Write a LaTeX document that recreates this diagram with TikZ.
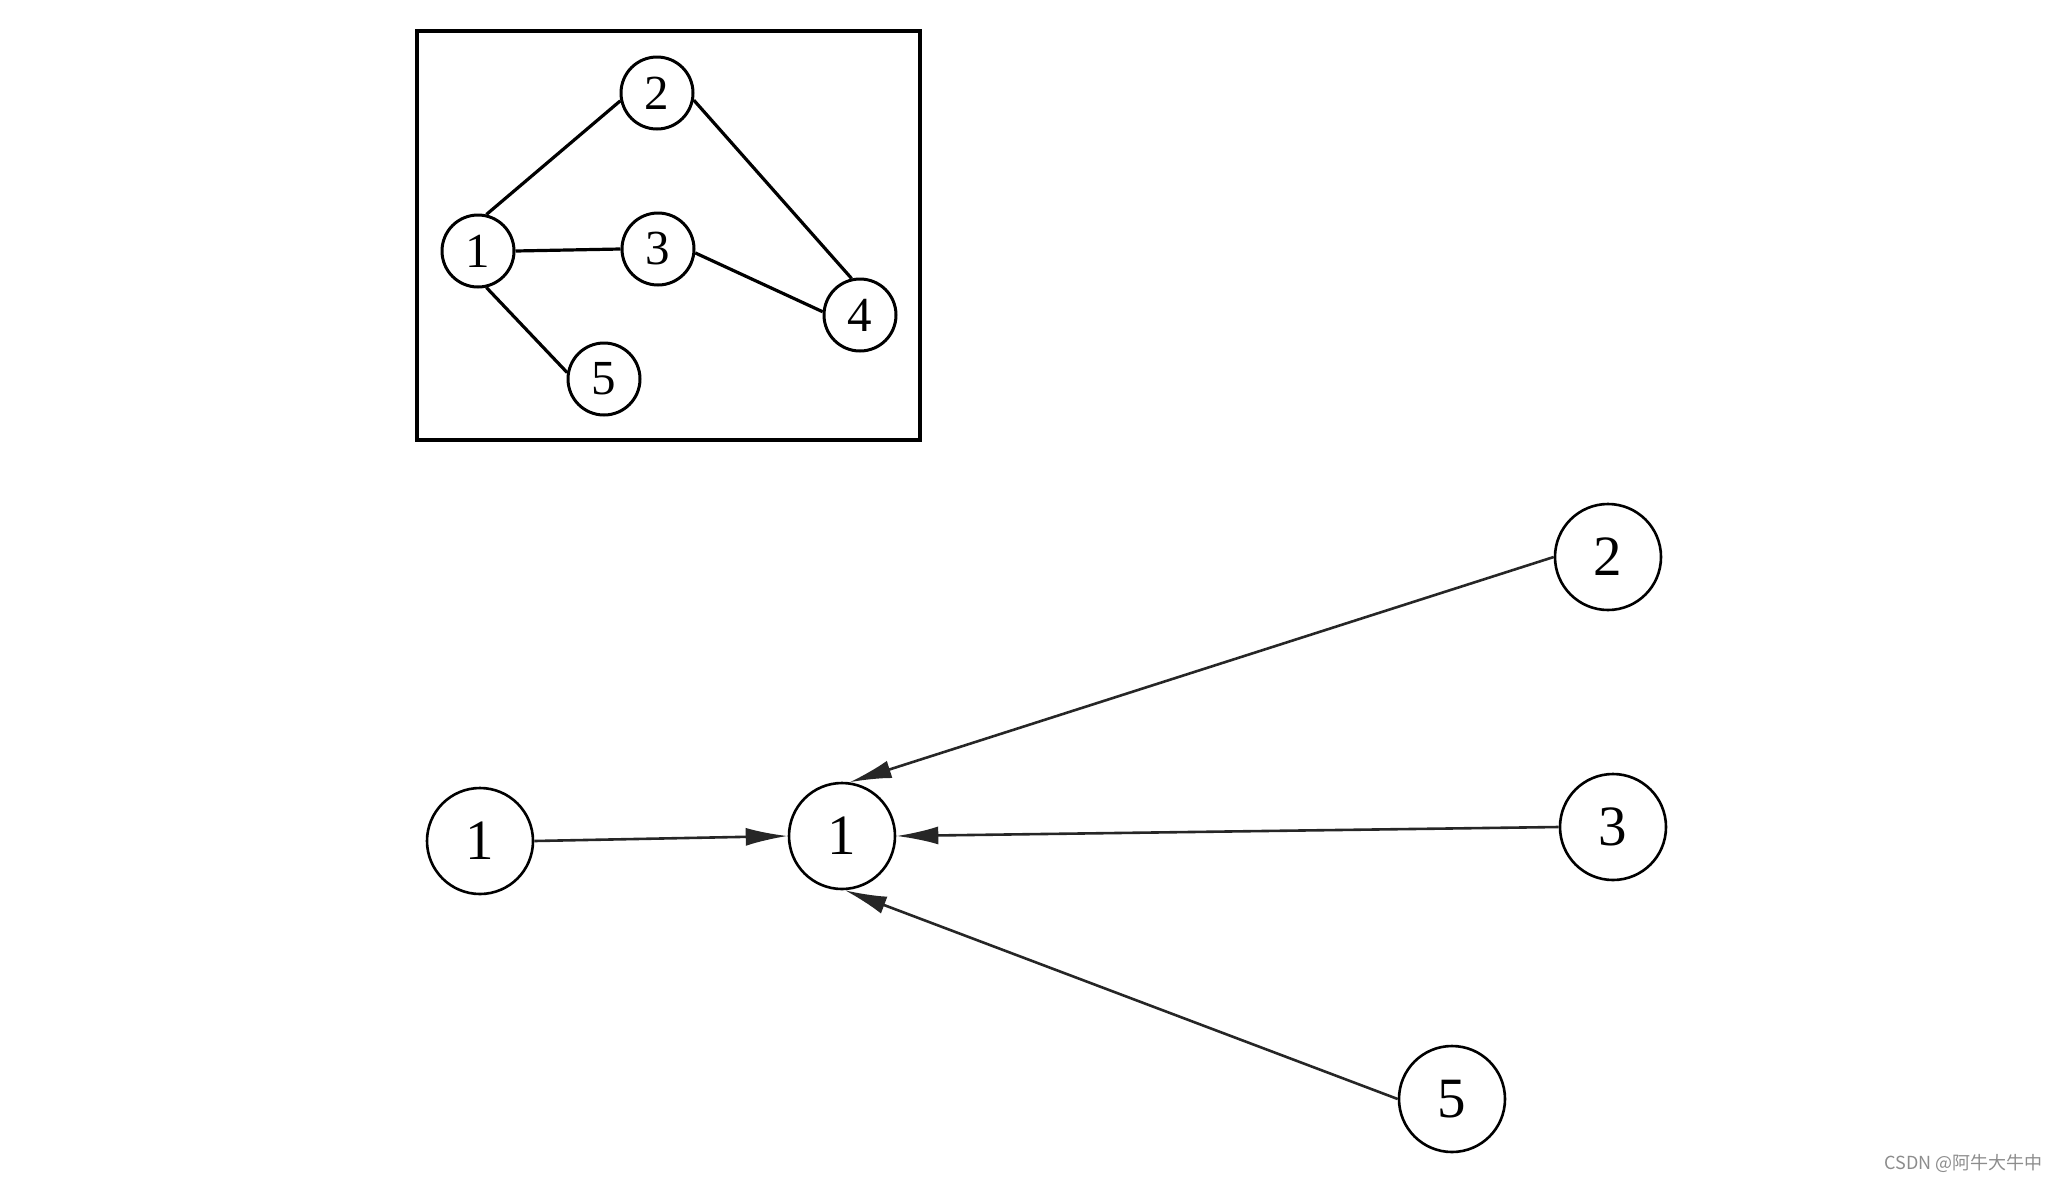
\documentclass[tikz,border=0pt]{standalone}
\usepackage{fontspec}
\setmainfont{Liberation Serif}
\newfontfamily\cjkfont{Noto Sans CJK SC}
\usetikzlibrary{arrows.meta}

\begin{document}
\begin{tikzpicture}[x=1pt,y=-1pt,
 small node/.style={circle,draw,line width=3pt,minimum size=72pt,inner sep=0pt,font=\fontsize{49}{49}\selectfont},
 big node/.style={circle,draw,line width=2.6pt,minimum size=106pt,inner sep=0pt,font=\fontsize{57}{57}\selectfont},
 link/.style={draw,line width=3.2pt},
 arc/.style={draw,line width=2.6pt,black!85,-{Latex[length=42pt,width=18pt]}}]
\useasboundingbox (0,0) rectangle (2062,1184);
%frame
\draw[line width=3.2pt] (417,31) rectangle (920,440);
%top graph
  \node[small node] (t1) at (478,251) {1};
  \node[small node] (t2) at (657,93) {2};
  \node[small node] (t3) at (658,249) {3};
  \node[small node] (t4) at (860,315) {4};
  \node[small node] (t5) at (604,379) {5};
  \path[every edge/.style={link}]
    (t1.77) edge (t2.192)
    (t1.east) edge (t3.west)
    (t1.-77) edge (t5.170)
    (t2.-11) edge (t4.103)
    (t3.-6) edge (t4.175);
%bottom graph
  \node[big node] (b1) at (480,841) {1};
  \node[big node] (c1) at (842,836) {1};
  \node[big node] (b2) at (1608,557) {2};
  \node[big node] (b3) at (1613,827) {3};
  \node[big node] (b5) at (1452,1099) {5};
  \path[every edge/.style={arc}]
    (b1.east) edge (c1.west)
    (b2.west) edge (c1.82)
    (b3.west) edge (c1.east)
    (b5.west) edge (c1.-87);
%mark
  \node[font=\cjkfont\fontsize{18}{18}\selectfont,text=black!45,anchor=east] (mark) at (2046,1163) {CSDN @阿牛大牛中};
\end{tikzpicture}
\end{document}
